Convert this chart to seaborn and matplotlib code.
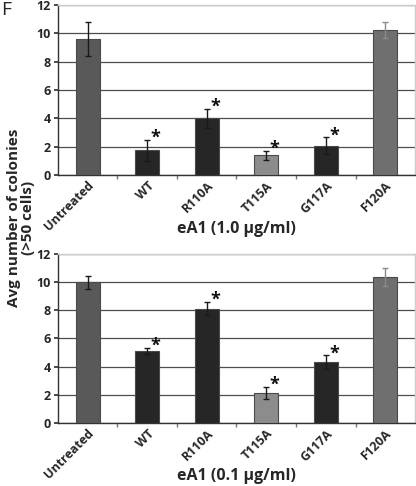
import matplotlib
matplotlib.use("Agg")
import matplotlib.pyplot as plt
import seaborn as sns
import numpy as np
import pandas as pd
from matplotlib.ticker import FixedLocator

categories = ["Untreated", "WT", "R110A", "T115A", "G117A", "F120A"]
top_values = [9.58, 1.75, 4.0, 1.4, 2.05, 10.22]
top_errors = [1.2, 0.74, 0.67, 0.31, 0.6, 0.56]
bottom_values = [10.0, 5.1, 8.12, 2.13, 4.3, 10.4]
bottom_errors = [0.48, 0.21, 0.47, 0.44, 0.5, 0.63]
significant = [False, True, True, True, True, False]
top_xlabel = "eA1 (1.0 \u03bcg/ml)"
bottom_xlabel = "eA1 (0.1 \u03bcg/ml)"
ylabel = "Avg number of colonies\n(>50 cells)"
yticks = [0, 2, 4, 6, 8, 10, 12]

bar_colors = ["#595959", "#262626", "#262626", "#8c8c8c", "#262626", "#6f6f6f"]
err_colors = ["#1a1a1a", "#1a1a1a", "#1a1a1a", "#1a1a1a", "#1a1a1a", "#8a8a8a"]

sns.set_theme(style="white")
plt.rcParams["font.family"] = ["Open Sans", "DejaVu Sans"]

fig = plt.figure(figsize=(4.16, 4.86), dpi=100)
ax1 = fig.add_axes([0.139, 0.640, 0.859, 0.350])
ax2 = fig.add_axes([0.139, 0.130, 0.859, 0.347])


def draw(ax, values, errors, xlabel):
    df = pd.DataFrame({"cat": categories, "val": values})
    sns.barplot(data=df, x="cat", y="val", hue="cat", palette=bar_colors,
                legend=False, width=0.4, ax=ax, zorder=3,
                edgecolor="#4a4a4a", linewidth=0.8)
    for i, (v, e) in enumerate(zip(values, errors)):
        ax.errorbar(i, v, yerr=e, fmt="none", ecolor=err_colors[i],
                    elinewidth=1.0, capsize=2.5, capthick=1.0, zorder=4)
        if significant[i]:
            ax.annotate("*", xy=(i, v + e), xytext=(6, -5),
                        textcoords="offset points", ha="center", va="bottom",
                        fontsize=13, fontweight="bold", color="#111111",
                        zorder=5)
    ax.set_ylim(0, 12)
    ax.set_xlim(-0.5, len(categories) - 0.5)
    ax.set_yticks(yticks)
    ax.set_yticklabels([str(t) for t in yticks], fontsize=9, fontweight="bold")
    ax.set_xticks(range(len(categories)))
    ax.set_xticklabels(categories, rotation=45, ha="right",
                       rotation_mode="anchor", fontsize=9, fontweight="bold")
    ax.xaxis.set_minor_locator(FixedLocator(np.arange(0.5, len(categories) - 0.5, 1.0)))
    ax.tick_params(axis="x", which="major", length=0, pad=3)
    ax.tick_params(axis="x", which="minor", length=3, color="#777777",
                   direction="out", bottom=True)
    ax.tick_params(axis="y", length=3, color="#333333", direction="out",
                   left=True, pad=2)
    ax.yaxis.grid(True, color="#4d4d4d", linewidth=0.9, zorder=0)
    ax.xaxis.grid(False)
    ax.set_axisbelow(True)
    ax.set_xlabel(xlabel, fontsize=11.5, fontweight="bold")
    ax.xaxis.label.set_va("center")
    ax.xaxis.set_label_coords(0.5, -0.318)
    ax.set_ylabel("")
    for side in ["left", "bottom"]:
        ax.spines[side].set_color("#333333")
        ax.spines[side].set_linewidth(1.0)
    for side in ["top", "right"]:
        ax.spines[side].set_color("#cccccc")
        ax.spines[side].set_linewidth(1.0)


draw(ax1, top_values, top_errors, top_xlabel)
draw(ax2, bottom_values, bottom_errors, bottom_xlabel)

fig.text(0.05, 0.551, ylabel, rotation=90, ha="center", va="center",
         fontsize=11, fontweight="bold", linespacing=1.05)
fig.text(0.002, 0.997, "F", ha="left", va="top", fontsize=14,
         fontweight="normal")

fig.savefig("out.png", dpi=100)
